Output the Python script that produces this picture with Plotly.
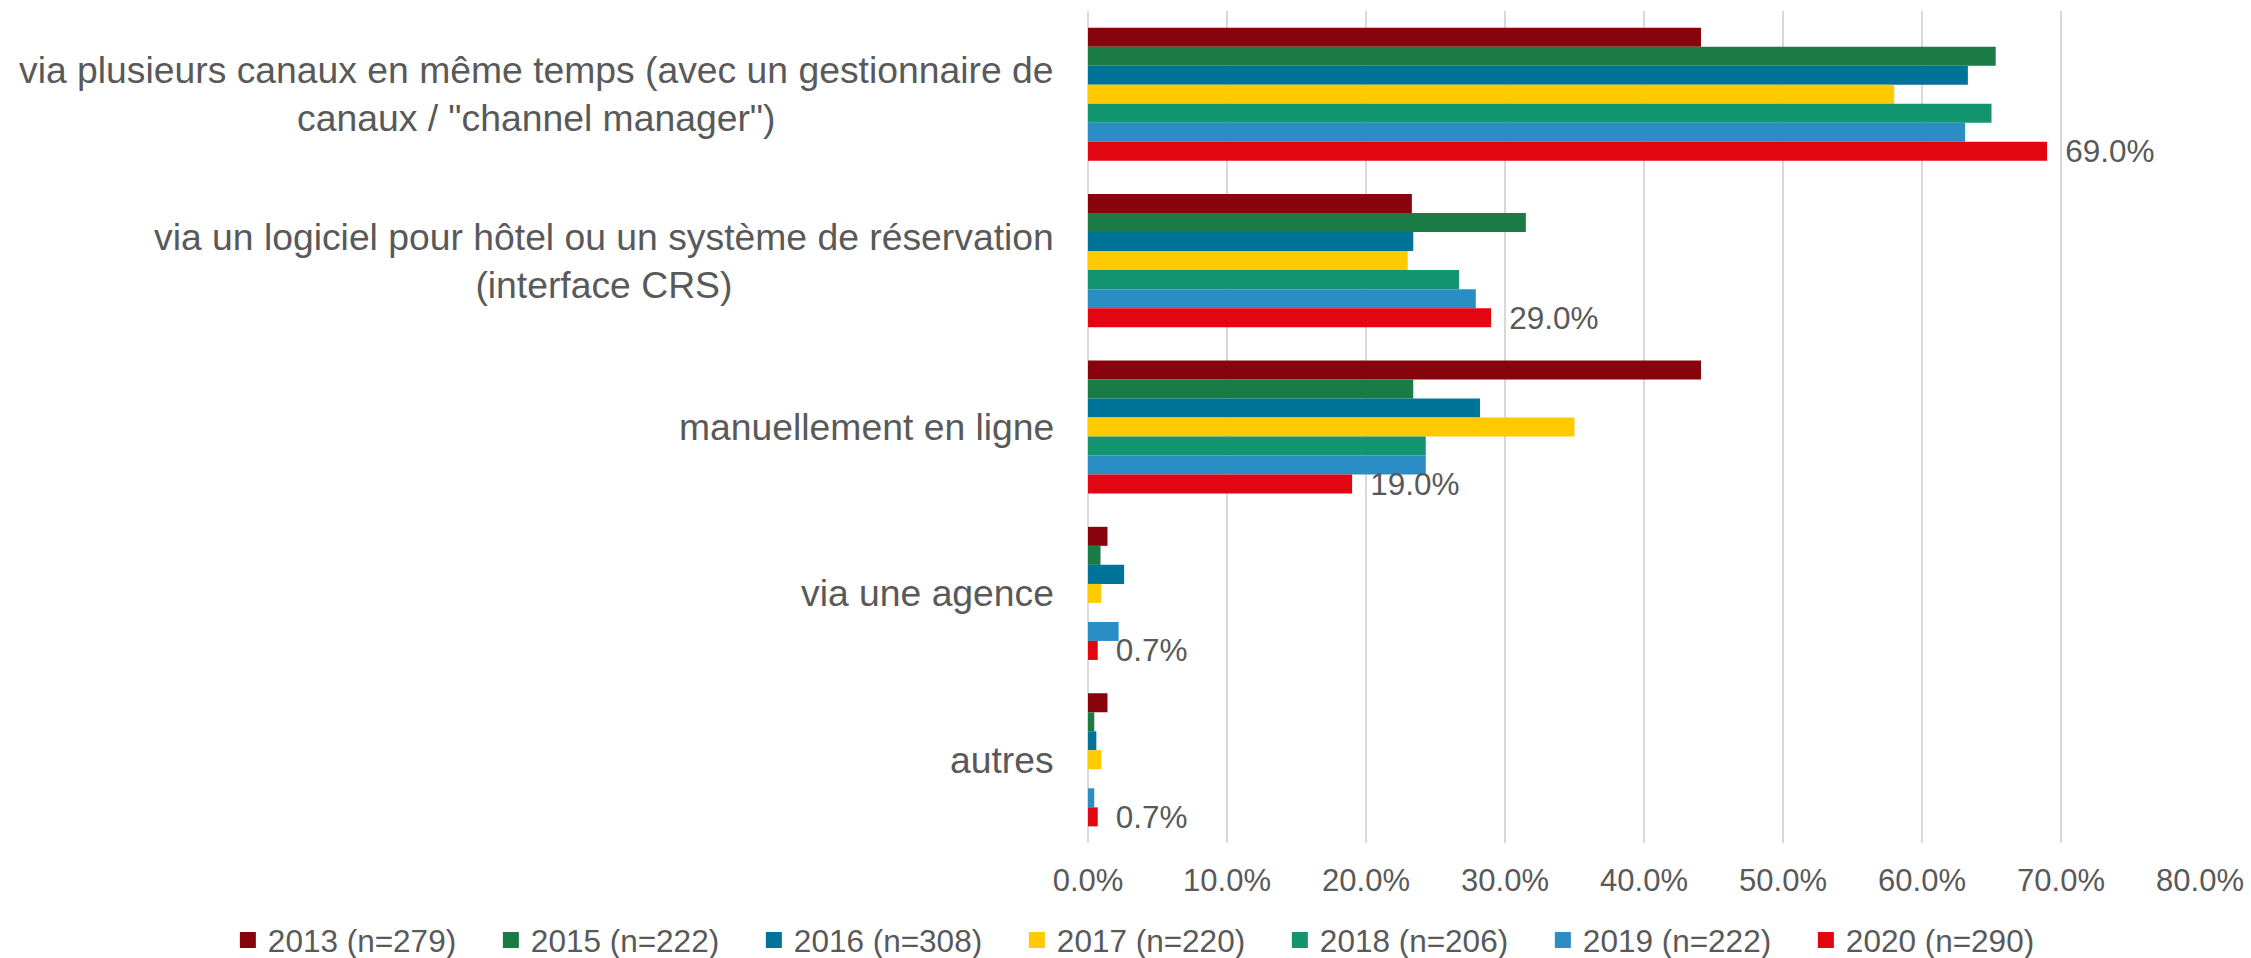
import plotly.graph_objects as go

categories = [
    'via plusieurs canaux en même temps (avec un gestionnaire de<br>canaux / "channel manager")',
    "via un logiciel pour hôtel ou un système de réservation<br>(interface CRS)",
    "manuellement en ligne",
    "via une agence",
    "autres",
]

series_names = [
    "2013 (n=279)",
    "2015 (n=222)",
    "2016 (n=308)",
    "2017 (n=220)",
    "2018 (n=206)",
    "2019 (n=222)",
    "2020 (n=290)",
]

v2013 = [0.441, 0.233, 0.441, 0.014, 0.014]
v2015 = [0.653, 0.315, 0.234, 0.009, 0.0045]
v2016 = [0.633, 0.234, 0.282, 0.026, 0.006]
v2017 = [0.580, 0.230, 0.350, 0.0095, 0.0095]
v2018 = [0.650, 0.267, 0.243, 0.0, 0.0]
v2019 = [0.631, 0.279, 0.243, 0.022, 0.0045]
v2020 = [0.690, 0.290, 0.190, 0.007, 0.007]

values = [v2013, v2015, v2016, v2017, v2018, v2019, v2020]
colors = ["#87040C", "#1B7B45", "#007398", "#FFCA00", "#13966F", "#2A8EC4", "#E20613"]

FONT = "Liberation Sans, Arial, sans-serif"
GREY = "#595959"

fig = go.Figure()
for i, (name, vals, col) in enumerate(zip(series_names, values, colors)):
    is_last = i == len(series_names) - 1
    fig.add_trace(go.Bar(
        y=categories,
        x=vals,
        name=name,
        orientation="h",
        legendgroup=name,
        showlegend=False,
        marker=dict(color=col, line=dict(width=0)),
        texttemplate="\u00a0\u2009%{x:.1%}" if is_last else None,
        textposition="outside" if is_last else "none",
        constraintext="none",
        cliponaxis=False,
        textfont=dict(family=FONT, size=31.5, color=GREY),
        hoverinfo="x+name",
    ))

# legend entries with larger square symbols (no visible data)
for name, col in zip(series_names, colors):
    fig.add_trace(go.Scatter(
        x=[None], y=[None],
        mode="markers",
        name=name,
        legendgroup=name,
        showlegend=True,
        marker=dict(symbol="square", size=16, color=col),
        hoverinfo="skip",
    ))

# category labels as centered multi-line annotations
for c in categories:
    fig.add_annotation(
        x=-0.0292, xref="paper", y=c, yref="y",
        text=c, showarrow=False, xanchor="right", yanchor="middle",
        align="center", font=dict(family=FONT, size=37.3, color=GREY),
    )

fig.update_layout(
    width=2251, height=958,
    barmode="group",
    bargap=0.2,
    bargroupgap=0,
    plot_bgcolor="white",
    paper_bgcolor="white",
    margin=dict(l=1087.5, r=51, t=11, b=115, autoexpand=False),
    font=dict(family=FONT, size=31, color=GREY),
    xaxis=dict(
        range=[0, 0.8],
        dtick=0.1,
        tickformat=".1%",
        showgrid=True,
        gridcolor="#D9D9D9",
        gridwidth=2,
        zeroline=True,
        zerolinecolor="#D9D9D9",
        zerolinewidth=2,
        showline=False,
        ticks="",
        ticklabelstandoff=16,
        tickfont=dict(family=FONT, size=31, color=GREY),
        automargin=False,
    ),
    yaxis=dict(
        autorange="reversed",
        showticklabels=False,
        showgrid=False,
        zeroline=False,
        showline=False,
        ticks="",
        automargin=False,
    ),
    legend=dict(
        orientation="h",
        xref="paper", yref="paper",
        x=-0.7735, xanchor="left",
        y=-0.1166, yanchor="middle",
        entrywidth=218, entrywidthmode="pixels",
        font=dict(family=FONT, size=31.5, color=GREY),
        traceorder="normal",
        itemsizing="trace",
    ),
    showlegend=True,
)

fig.write_html(
    "out.html",
    config={"displayModeBar": False},
    post_script="document.body.style.margin='0';document.body.style.padding='0';document.body.style.overflow='hidden';",
)
